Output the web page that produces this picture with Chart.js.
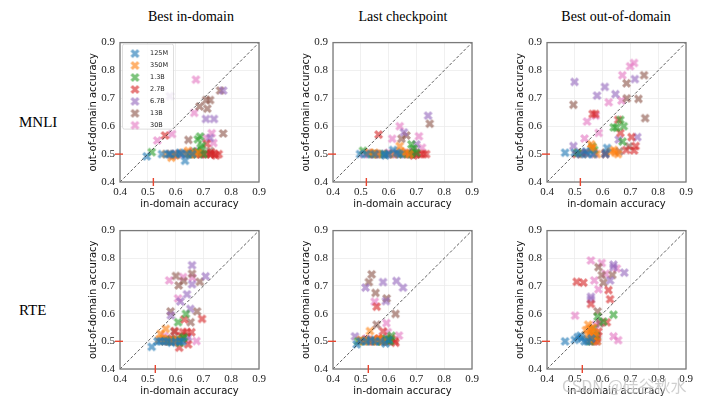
<!DOCTYPE html>
<html><head><meta charset="utf-8">
<script src="https://cdn.jsdelivr.net/npm/chart.js@4.4.0/dist/chart.umd.min.js"></script>
<style>
html,body{margin:0;padding:0;background:#fff;width:720px;height:405px;overflow:hidden;position:relative;}
canvas.panel{position:absolute;}
.title{position:absolute;font-family:"Liberation Serif",serif;font-size:14px;line-height:18px;color:#000;transform:translateX(-50%);white-space:nowrap;}
.rowlab{position:absolute;font-family:"Liberation Serif",serif;font-size:15px;line-height:18px;color:#000;white-space:nowrap;}
.wm{position:absolute;font-family:"Noto Sans CJK SC","DejaVu Sans",sans-serif;font-size:16px;color:rgba(170,170,170,0.55);white-space:nowrap;text-shadow:0 0 2px #fff;}
</style></head><body>
<div class="title" style="left:191px;top:8px;">Best in-domain</div>
<div class="title" style="left:403px;top:8px;">Last checkpoint</div>
<div class="title" style="left:616px;top:8px;">Best out-of-domain</div>
<div class="rowlab" style="left:19px;top:113px;">MNLI</div>
<div class="rowlab" style="left:19px;top:301px;">RTE</div>
<script>
// ---------------- DATA ----------------
const modelSizes = ['125M','350M','1.3B','2.7B','6.7B','13B','30B'];
const columnTitles = ['Best in-domain','Last checkpoint','Best out-of-domain'];
const taskNames = ['MNLI','RTE'];
const tickValues = [0.4,0.5,0.6,0.7,0.8,0.9];
const diagonal = [0.4,0.9];
const baselineIn = [0.52,0.527];   // per task (red mark on x axis)
const baselineOut = [0.5,0.5];     // per task (red mark on y axis)

// each panel: one list of [in-domain, out-of-domain] points per model size (order of modelSizes)
const mnliBestIn = [
 [[0.496,0.492],[0.551,0.50],[0.575,0.50],[0.60,0.50],[0.615,0.505],[0.634,0.476],[0.64,0.50],[0.62,0.50],[0.66,0.50],[0.58,0.50]],
 [[0.565,0.50],[0.585,0.487],[0.60,0.495],[0.625,0.505],[0.645,0.512],[0.655,0.50],[0.67,0.50],[0.68,0.505],[0.595,0.50]],
 [[0.514,0.507],[0.688,0.563],[0.68,0.553],[0.69,0.522],[0.695,0.53],[0.66,0.50],[0.70,0.50],[0.675,0.51],[0.65,0.50]],
 [[0.562,0.567],[0.712,0.537],[0.69,0.50],[0.71,0.50],[0.725,0.50],[0.74,0.50],[0.755,0.50],[0.745,0.495],[0.66,0.505],[0.73,0.505]],
 [[0.579,0.708],[0.771,0.728],[0.709,0.626],[0.738,0.626],[0.724,0.558],[0.58,0.50],[0.60,0.50],[0.665,0.51],[0.645,0.50],[0.69,0.50],[0.59,0.495]],
 [[0.76,0.728],[0.71,0.694],[0.724,0.694],[0.714,0.663],[0.686,0.671],[0.646,0.551],[0.771,0.574],[0.724,0.511],[0.70,0.50],[0.725,0.50],[0.675,0.50]],
 [[0.673,0.767],[0.667,0.648],[0.587,0.572],[0.534,0.549],[0.73,0.575],[0.71,0.558],[0.736,0.54],[0.65,0.50],[0.62,0.50],[0.68,0.51],[0.61,0.50]]
];
const mnliLast = [
 [[0.497,0.50],[0.52,0.50],[0.588,0.495],[0.60,0.50],[0.616,0.515],[0.63,0.505],[0.585,0.50],[0.55,0.50],[0.64,0.50]],
 [[0.53,0.505],[0.55,0.505],[0.64,0.529],[0.645,0.51],[0.60,0.50],[0.66,0.505],[0.56,0.50],[0.62,0.50],[0.675,0.50]],
 [[0.508,0.512],[0.682,0.535],[0.69,0.52],[0.54,0.50],[0.70,0.505],[0.68,0.50],[0.65,0.50],[0.58,0.50]],
 [[0.564,0.570],[0.725,0.50],[0.735,0.50],[0.715,0.50],[0.70,0.50],[0.69,0.495],[0.67,0.50],[0.55,0.50]],
 [[0.742,0.638],[0.655,0.578],[0.70,0.535],[0.595,0.50],[0.625,0.50],[0.56,0.50],[0.66,0.50],[0.69,0.505],[0.53,0.50]],
 [[0.748,0.609],[0.664,0.567],[0.646,0.555],[0.69,0.51],[0.70,0.50],[0.68,0.50],[0.545,0.50],[0.57,0.50],[0.635,0.50]],
 [[0.64,0.60],[0.613,0.555],[0.709,0.564],[0.72,0.523],[0.51,0.50],[0.525,0.505],[0.60,0.505],[0.65,0.50],[0.615,0.50],[0.67,0.505]]
];
const mnliBestOut = [
 [[0.465,0.505],[0.50,0.505],[0.52,0.50],[0.545,0.50],[0.565,0.50],[0.616,0.522],[0.61,0.50],[0.54,0.51]],
 [[0.559,0.535],[0.565,0.525],[0.63,0.51],[0.645,0.505],[0.64,0.515],[0.58,0.50],[0.655,0.50],[0.56,0.52]],
 [[0.64,0.596],[0.676,0.60],[0.664,0.623],[0.65,0.595],[0.672,0.545],[0.563,0.527],[0.57,0.515],[0.51,0.505]],
 [[0.564,0.644],[0.574,0.644],[0.656,0.623],[0.664,0.576],[0.704,0.561],[0.719,0.529],[0.713,0.513],[0.61,0.50],[0.505,0.50],[0.54,0.505],[0.685,0.515]],
 [[0.499,0.759],[0.608,0.741],[0.716,0.769],[0.58,0.71],[0.646,0.715],[0.658,0.552],[0.725,0.561],[0.495,0.529],[0.57,0.50]],
 [[0.749,0.783],[0.686,0.754],[0.687,0.70],[0.729,0.698],[0.495,0.677],[0.753,0.629],[0.695,0.528],[0.61,0.505],[0.53,0.50],[0.66,0.51]],
 [[0.713,0.827],[0.699,0.815],[0.671,0.783],[0.668,0.692],[0.622,0.686],[0.544,0.617],[0.575,0.638],[0.586,0.576],[0.535,0.556],[0.525,0.505],[0.57,0.505]]
];
const rteBestIn = [
 [[0.514,0.48],[0.535,0.50],[0.545,0.50],[0.56,0.50],[0.585,0.495],[0.60,0.50],[0.615,0.50],[0.625,0.50],[0.57,0.50]],
 [[0.565,0.545],[0.546,0.527],[0.555,0.51],[0.575,0.505],[0.59,0.50],[0.56,0.50],[0.605,0.505],[0.54,0.505]],
 [[0.637,0.599],[0.609,0.569],[0.625,0.51],[0.615,0.495],[0.58,0.50],[0.60,0.505],[0.565,0.505],[0.63,0.515]],
 [[0.695,0.581],[0.631,0.579],[0.627,0.533],[0.64,0.533],[0.657,0.533],[0.597,0.537],[0.645,0.489],[0.613,0.477],[0.585,0.51],[0.62,0.52]],
 [[0.659,0.775],[0.708,0.735],[0.659,0.706],[0.641,0.67],[0.617,0.644],[0.653,0.617],[0.583,0.594],[0.645,0.515],[0.58,0.505],[0.60,0.50]],
 [[0.659,0.744],[0.601,0.736],[0.629,0.718],[0.611,0.702],[0.687,0.715],[0.677,0.608],[0.582,0.608],[0.654,0.569],[0.595,0.535],[0.57,0.50],[0.61,0.505]],
 [[0.627,0.732],[0.577,0.72],[0.661,0.73],[0.609,0.655],[0.675,0.501],[0.56,0.52],[0.59,0.505],[0.60,0.50],[0.64,0.505],[0.575,0.50]]
];
const rteLast = [
 [[0.485,0.489],[0.50,0.50],[0.52,0.50],[0.589,0.492],[0.55,0.50],[0.57,0.50],[0.60,0.505],[0.535,0.505]],
 [[0.533,0.537],[0.51,0.50],[0.53,0.505],[0.545,0.50],[0.56,0.505],[0.58,0.50],[0.50,0.505],[0.565,0.51]],
 [[0.61,0.52],[0.60,0.505],[0.49,0.50],[0.515,0.50],[0.555,0.50],[0.59,0.51],[0.575,0.50],[0.605,0.50]],
 [[0.557,0.625],[0.58,0.536],[0.622,0.501],[0.625,0.495],[0.565,0.51],[0.54,0.50],[0.595,0.50],[0.61,0.51]],
 [[0.517,0.694],[0.58,0.714],[0.628,0.718],[0.652,0.694],[0.59,0.645],[0.479,0.518],[0.50,0.505],[0.55,0.50],[0.60,0.50]],
 [[0.539,0.742],[0.529,0.714],[0.553,0.675],[0.593,0.655],[0.625,0.599],[0.557,0.56],[0.52,0.505],[0.575,0.50],[0.59,0.505]],
 [[0.55,0.643],[0.592,0.566],[0.597,0.533],[0.637,0.521],[0.52,0.51],[0.53,0.50],[0.56,0.505],[0.585,0.50],[0.545,0.505],[0.575,0.51]]
];
const rteBestOut = [
 [[0.465,0.50],[0.50,0.505],[0.51,0.515],[0.525,0.51],[0.535,0.50],[0.52,0.52],[0.545,0.50],[0.56,0.51]],
 [[0.548,0.56],[0.555,0.545],[0.56,0.533],[0.545,0.525],[0.54,0.54],[0.565,0.55],[0.57,0.52],[0.58,0.50],[0.55,0.505],[0.575,0.53],[0.56,0.515]],
 [[0.639,0.596],[0.582,0.589],[0.603,0.571],[0.565,0.545],[0.575,0.52],[0.555,0.50]],
 [[0.507,0.715],[0.531,0.712],[0.621,0.685],[0.627,0.652],[0.558,0.635],[0.615,0.569],[0.567,0.52],[0.58,0.51],[0.57,0.50],[0.585,0.535]],
 [[0.639,0.777],[0.639,0.768],[0.678,0.748],[0.627,0.72],[0.558,0.661],[0.558,0.652],[0.56,0.505],[0.57,0.51],[0.58,0.50],[0.575,0.51]],
 [[0.585,0.768],[0.597,0.739],[0.635,0.74],[0.603,0.712],[0.582,0.608],[0.59,0.565],[0.56,0.50],[0.575,0.505],[0.58,0.52]],
 [[0.558,0.792],[0.597,0.783],[0.651,0.763],[0.611,0.744],[0.57,0.72],[0.585,0.688],[0.501,0.593],[0.639,0.518],[0.656,0.504],[0.59,0.57],[0.575,0.56]]
];
const panelData = [[mnliBestIn, mnliLast, mnliBestOut],[rteBestIn, rteLast, rteBestOut]];

// ---------------- STYLE ----------------
const palette = ['31,119,180','255,127,14','44,160,44','214,39,40','148,103,189','140,86,75','227,119,194'];
const areaLeft = [120,333,547];
const areaTop = [41,229];
const areaW = 139;
const areaH = [141,140];
const PADL = 2, YW = 48, PADT = 10, PADR = 14, XH = 32;

function makeMarker(rgb){
  const c = document.createElement('canvas');
  c.width = 11; c.height = 11;
  const g = c.getContext('2d');
  const v = [[-1,-2],[0,-1],[1,-2],[2,-1],[1,0],[2,1],[1,2],[0,1],[-1,2],[-2,1],[-1,0],[-2,-1]];
  const s = 9/4;
  g.beginPath();
  v.forEach((p,i)=>{ const x=5.5+p[0]*s, y=5.5+p[1]*s; if(i===0) g.moveTo(x,y); else g.lineTo(x,y); });
  g.closePath();
  g.fillStyle = 'rgba('+rgb+',0.62)';
  g.fill();
  return c;
}
const markers = palette.map(makeMarker);

const framePlugin = {
  id:'frameMarks',
  afterDraw(chart, args, opts){
    const {ctx, chartArea:a, scales} = chart;
    ctx.save();
    ctx.strokeStyle = '#7a7a7a';
    ctx.lineWidth = 1.3;
    ctx.strokeRect(a.left, a.top, a.width, a.height);
    // red baseline marks
    ctx.strokeStyle = '#e8452f';
    ctx.lineWidth = 1.4;
    const bx = scales.x.getPixelForValue(opts.bx);
    ctx.beginPath(); ctx.moveTo(bx, a.bottom-4); ctx.lineTo(bx, a.bottom+4); ctx.stroke();
    const by = scales.y.getPixelForValue(opts.by);
    ctx.beginPath(); ctx.moveTo(a.left-5, by); ctx.lineTo(a.left+3, by); ctx.stroke();
    // legend
    if (opts.legend) {
      const x0 = a.left+2, y0 = a.top+1, w = 51, h = 85;
      ctx.fillStyle = 'rgba(255,255,255,0.85)';
      ctx.strokeStyle = '#d6d6d6';
      ctx.lineWidth = 0.8;
      ctx.beginPath();
      if (ctx.roundRect) ctx.roundRect(x0+0.5, y0+0.5, w, h, 2); else ctx.rect(x0+0.5,y0+0.5,w,h);
      ctx.fill(); ctx.stroke();
      ctx.font = '6.5px "DejaVu Sans"';
      ctx.fillStyle = '#222';
      ctx.textBaseline = 'middle';
      ctx.textAlign = 'left';
      modelSizes.forEach((lab,i)=>{
        const cy = y0 + 10 + i*11.95;
        ctx.drawImage(markers[i], x0+13-5.5, cy-5.5);
        ctx.fillText(lab, x0+28, cy);
      });
    }
    ctx.restore();
  }
};

function buildPanel(r, c){
  const cv = document.createElement('canvas');
  cv.className = 'panel';
  const W = PADL + YW + areaW + PADR;
  const H = PADT + areaH[r] + XH;
  cv.width = W; cv.height = H;
  cv.style.left = (areaLeft[c] - PADL - YW) + 'px';
  cv.style.top = (areaTop[r] - PADT) + 'px';
  cv.style.width = W + 'px'; cv.style.height = H + 'px';
  document.body.appendChild(cv);
  const series = panelData[r][c];
  const datasets = modelSizes.map((size,i)=>({
    label: size,
    data: series[i].map(p=>({x:p[0], y:p[1]})),
    pointStyle: markers[i],
    pointRadius: 4,
    order: 1
  }));
  datasets.push({
    label: 'y = x',
    data: diagonal.map(v=>({x:v, y:v})),
    showLine: true,
    borderColor: '#333',
    borderWidth: 0.8,
    borderDash: [3,2],
    pointRadius: 0,
    order: 0
  });
  const tickFont = {family:'"Liberation Serif", serif', size:11};
  const titleFont = {family:'"DejaVu Sans", sans-serif', size:10};
  new Chart(cv, {
    type: 'scatter',
    data: {datasets},
    plugins: [framePlugin],
    options: {
      responsive: false,
      animation: false,
      events: [],
      layout: {autoPadding:false, padding:{left:PADL, top:PADT, right:PADR, bottom:0}},
      plugins: {
        legend: {display:false},
        tooltip: {enabled:false},
        frameMarks: {bx: baselineIn[r], by: baselineOut[r], legend: (r===0 && c===0)}
      },
      scales: {
        x: {
          type:'linear', min:0.4, max:0.9,
          border:{display:false},
          grid:{color:'#ececec', lineWidth:0.8, drawTicks:false},
          afterBuildTicks(s){ s.ticks = tickValues.map(v=>({value:v})); },
          ticks:{padding:4, font:tickFont, color:'#222', maxRotation:0, autoSkip:false, callback:v=>Number(v).toFixed(1)},
          title:{display:true, text:'in-domain accuracy', font:titleFont, color:'#111', padding:{top:0, bottom:4}},
          afterFit(s){ s.height = XH; }
        },
        y: {
          type:'linear', min:0.4, max:0.9,
          border:{display:false},
          grid:{color:'#ececec', lineWidth:0.8, drawTicks:false},
          afterBuildTicks(s){ s.ticks = tickValues.map(v=>({value:v})); },
          ticks:{padding:5, font:tickFont, color:'#222', autoSkip:false, callback:v=>Number(v).toFixed(1)},
          title:{display:true, text:'out-of-domain accuracy', font:titleFont, color:'#111', padding:{top:15, bottom:0}},
          afterFit(s){ s.width = YW; }
        }
      }
    }
  });
}
for (let r=0;r<2;r++) for (let c=0;c<3;c++) buildPanel(r,c);
</script>
<div class="wm" style="left:562px;top:373px;">CSDN @硅谷秋水</div>
</body></html>
